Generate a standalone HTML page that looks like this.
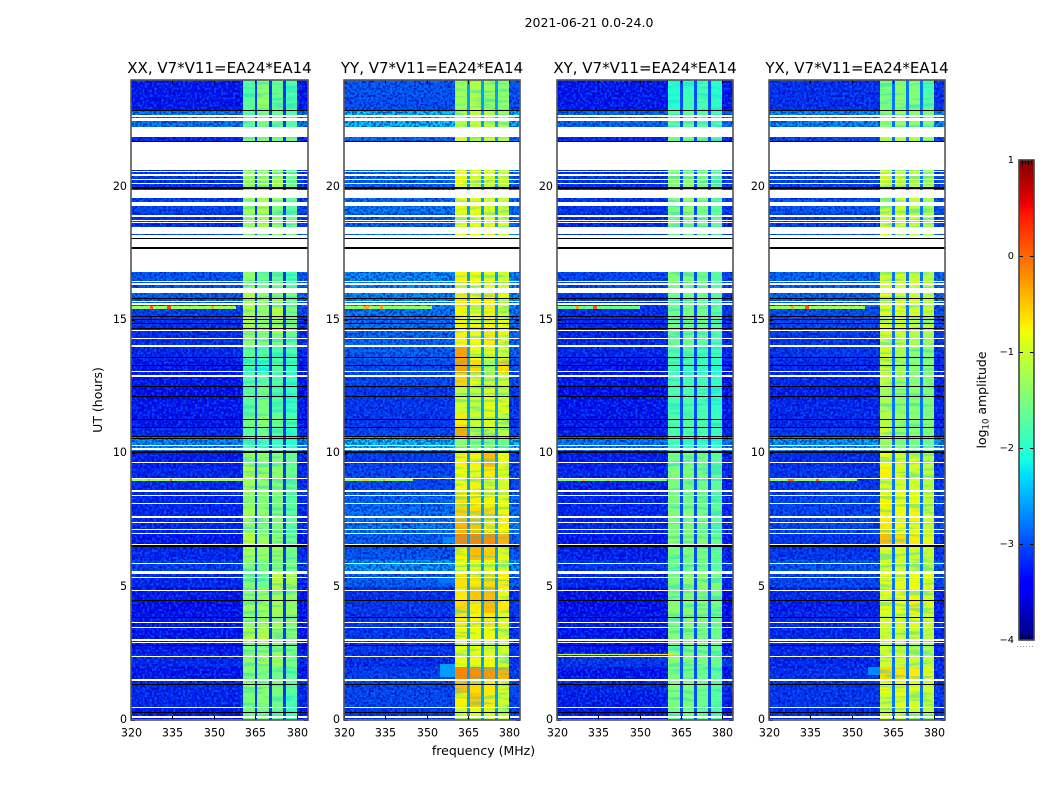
<!DOCTYPE html>
<html lang="en">
<head>
<meta charset="utf-8">
<title>2021-06-21 waterfall</title>
<style>
html,body{margin:0;padding:0;background:#fff;}
svg{display:block;font-family:"DejaVu Sans","Liberation Sans",sans-serif;fill:#000;}
</style>
</head>
<body>
<svg id="chart" xmlns="http://www.w3.org/2000/svg" width="1050" height="800" viewBox="0 0 1050 800">
  <defs>
    <filter id="speckle-light" x="0" y="0" width="1" height="1" color-interpolation-filters="sRGB">
      <feTurbulence type="fractalNoise" baseFrequency="0.42" numOctaves="1" seed="3"/>
      <feColorMatrix type="matrix" values="0 0 0 0 0  0 0 0 0 0.5  0 0 0 0 1  8 0 0 0 -4"/>
    </filter>
    <filter id="speckle-dark" x="0" y="0" width="1" height="1" color-interpolation-filters="sRGB">
      <feTurbulence type="fractalNoise" baseFrequency="0.42" numOctaves="1" seed="11"/>
      <feColorMatrix type="matrix" values="0 0 0 0 0  0 0 0 0 0  0 0 0 0 0.6  8 0 0 0 -3.6"/>
    </filter>
    <filter id="band-streaks" x="0" y="0" width="1" height="1" color-interpolation-filters="sRGB">
      <feTurbulence type="fractalNoise" baseFrequency="0.03 0.28" numOctaves="2" seed="7"/>
      <feColorMatrix type="matrix" values="0 0 0 0 0  0 0 0 0 0.8  0 0 0 0 0.9  6 0 0 0 -3"/>
    </filter>
  </defs>
  <text x="589" y="27" font-size="12.5" text-anchor="middle">2021-06-21 0.0-24.0</text>
  <text x="483.5" y="755" font-size="12.5" text-anchor="middle">frequency (MHz)</text>
  <text transform="translate(102,400) rotate(-90)" font-size="12.5" text-anchor="middle">UT (hours)</text>
  <text transform="translate(986,400) rotate(-90)" font-size="12.5" text-anchor="middle">log<tspan font-size="8.5" dy="2.5">10</tspan><tspan dy="-2.5"> amplitude</tspan></text>
  <g id="panels"></g>
  <g id="colorbar"></g>
</svg>
<script>
// ---- axis data ----
const panelTitles = ["XX, V7*V11=EA24*EA14", "YY, V7*V11=EA24*EA14", "XY, V7*V11=EA24*EA14", "YX, V7*V11=EA24*EA14"];
const xTicks = [320, 335, 350, 365, 380];
const yTicks = [0, 5, 10, 15, 20];
const colorTicks = [1, 0, -1, -2, -3, -4];

// ---- frequency columns (MHz): background, band 1, gap, band 2, gap, band 3, gap, band 4, tail ----
const freqEdges = [320, 360.5, 364.7, 365.7, 369.9, 370.9, 375, 375.9, 379.9, 384];

// ---- time segments (UT hours) ----
const timeEdges = [0,0.5,1,1.5,2,2.5,3,3.5,4,4.5,5,5.5,6,6.5,7,7.5,8,8.5,9,9.5,10,10.6,11,11.5,12,12.5,13,13.5,14,14.5,15,15.5,16,16.8,18.5,19,19.5,20.6,22.2,22.85,23.4,24];

// ---- log10 amplitude per time segment ----
const xxBackground = [-3.3,-3.2,-3.2,-3.3,-3.2, -3.3,-3.3,-3.3,-3.35,-3.3, -3.2,-3.05,-3.2,-3.3,-3.2, -3.2,-3.2,-3.2,-3.2,-3.25, -2.6,-3.2,-3.3,-3.3,-3.35, -3.3,-3.3,-3.2,-3.15,-3.15, -3.05,-2.85,-2.9,-3.0,-3.15, -3.0,-3.1,-3.2,-2.7,-3.3, -3.3];
const xxBand1 = [-1.55,-1.5,-1.4,-1.45,-1.35, -1.5,-1.2,-1.4,-1.3,-1.4, -1.5,-1.45,-1.3,-1.15,-1.4, -1.3,-1.4,-1.3,-1.15,-1.35, -1.8,-1.7,-1.55,-1.7,-1.7, -1.75,-1.8,-1.7,-1.4,-1.25, -1.15,-1.2,-1.4,-1.4,-1.35, -1.3,-1.3,-1.5,-1.65,-1.7, -1.75];
const xxBand2 = [-1.5,-1.45,-1.4,-1.5,-1.3, -1.45,-1.15,-1.3,-1.3,-1.35, -1.6,-1.5,-1.35,-1.3,-1.5, -1.35,-1.45,-1.4,-1.3,-1.4, -1.9,-1.6,-1.4,-1.5,-1.55, -1.7,-2.0,-1.75,-1.5,-1.35, -1.35,-1.4,-1.6,-1.4,-1.25, -1.2,-1.3,-1.5,-1.5,-1.35, -1.4];
const xxBand3 = [-1.6,-1.55,-1.5,-1.55,-1.35, -1.4,-1.3,-1.35,-1.25,-1.3, -1.1,-1.5,-1.3,-1.4,-1.5, -1.45,-1.5,-1.4,-1.4,-1.45, -1.9,-1.7,-1.6,-1.75,-1.7, -1.75,-1.7,-1.8,-1.5,-1.2, -1.15,-1.3,-1.6,-1.4,-1.4, -1.5,-1.3,-1.55,-1.6,-1.6, -1.6];
const xxBand4 = [-1.85,-1.8,-1.7,-1.7,-1.55, -1.55,-1.4,-1.4,-1.35,-1.4, -1.2,-1.55,-1.55,-1.6,-1.7, -1.7,-1.7,-1.6,-1.6,-1.65, -2.0,-1.95,-1.8,-1.9,-1.9, -1.9,-1.9,-1.8,-1.7,-1.5, -1.5,-1.6,-1.8,-1.5,-1.6, -1.7,-1.6,-1.6,-1.75,-1.75, -1.8];

const yyBackground = [-3.1,-3.0,-3.0,-3.05,-3.15, -3.1,-3.1,-3.1,-3.1,-3.15, -2.85,-2.55,-2.9,-2.85,-2.7, -2.75,-2.8,-3.0,-3.0,-3.05, -2.3,-3.0,-3.1,-3.1,-3.1, -3.0,-2.95,-2.85,-2.8,-2.75, -2.7,-2.6,-2.6,-2.7,-2.85, -2.7,-2.8,-2.8,-2.3,-2.95, -2.9];
const yyBand1 = [-0.9,-0.75,-0.45,-0.15,-0.85, -0.85,-0.75,-0.7,-0.6,-0.7, -0.65,-0.85,-0.75,-0.15,-0.4, -0.55,-0.65,-0.8,-0.8,-0.75, -1.4,-0.35,-0.7,-1.0,-1.1, -0.55,-0.3,-0.3,-0.75,-0.75, -0.75,-0.7,-0.75,-0.85,-0.85, -0.85,-0.85,-0.95,-1.2,-1.3, -1.3];
const yyBand2 = [-0.9,-0.5,-0.6,-0.2,-0.85, -0.85,-0.85,-0.75,-0.7,-0.5, -0.7,-0.85,-0.45,-0.15,-0.5, -0.6,-0.7,-0.75,-0.85,-0.75, -1.5,-1.0,-1.0,-1.05,-1.1, -0.8,-0.6,-0.8,-0.8,-0.85, -0.8,-0.75,-0.8,-0.85,-0.85, -0.85,-0.9,-0.95,-1.1,-1.15, -1.2];
const yyBand3 = [-0.95,-0.7,-0.7,-0.25,-0.8, -0.95,-0.8,-0.7,-0.45,-0.45, -0.6,-0.85,-0.55,-0.2,-0.7, -0.6,-0.75,-0.85,-0.7,-0.45, -1.5,-1.0,-0.9,-0.85,-0.9, -1.0,-1.25,-0.9,-0.7,-0.75, -0.75,-0.7,-0.85,-0.9,-0.9, -0.95,-0.95,-1.0,-1.2,-1.3, -1.3];
const yyBand4 = [-1.1,-1.0,-0.9,-0.4,-1.0, -1.0,-0.95,-0.85,-0.7,-0.8, -0.7,-1.0,-0.85,-0.4,-0.75, -0.75,-0.85,-0.95,-0.9,-0.8, -1.6,-1.1,-1.05,-0.9,-1.1, -1.0,-0.6,-1.0,-0.85,-0.85, -0.95,-0.9,-1.0,-1.0,-1.0, -1.05,-1.05,-1.1,-1.3,-1.4, -1.4];

const xyBackground = [-3.3,-3.25,-3.2,-3.3,-3.1, -3.3,-3.3,-3.3,-3.35,-3.35, -3.2,-3.1,-3.25,-3.3,-3.2, -3.2,-3.2,-3.25,-3.2,-3.25, -2.7,-3.25,-3.3,-3.3,-3.35, -3.3,-3.3,-3.2,-3.2,-3.2, -3.15,-3.1,-3.0,-3.05,-3.2, -3.1,-3.1,-3.2,-2.8,-3.3, -3.3];
const xyBand1 = [-1.6,-1.5,-1.45,-1.5,-1.4, -1.55,-1.45,-1.45,-1.4,-1.5, -1.5,-1.6,-1.5,-1.35,-1.5, -1.45,-1.5,-1.5,-1.45,-1.55, -1.9,-1.75,-1.75,-1.8,-1.8, -1.8,-1.8,-1.75,-1.6,-1.55, -1.55,-1.6,-1.45,-1.45,-1.45, -1.5,-1.45,-1.6,-1.7,-2.0, -2.0];
const xyBand2 = [-1.55,-1.5,-1.5,-1.55,-1.45, -1.5,-1.45,-1.4,-1.45,-1.45, -1.4,-1.55,-1.5,-1.35,-1.5, -1.45,-1.55,-1.5,-1.5,-1.5, -1.95,-1.75,-1.7,-1.75,-1.8, -1.85,-1.85,-1.7,-1.6,-1.55, -1.5,-1.55,-1.45,-1.45,-1.35, -1.35,-1.4,-1.55,-1.65,-1.85, -1.9];
const xyBand3 = [-1.6,-1.6,-1.55,-1.6,-1.5, -1.55,-1.5,-1.5,-1.45,-1.45, -1.4,-1.55,-1.5,-1.45,-1.55, -1.5,-1.55,-1.55,-1.5,-1.55, -1.95,-1.8,-1.75,-1.8,-1.8, -1.85,-1.9,-1.85,-1.65,-1.6, -1.55,-1.6,-1.55,-1.5,-1.5, -1.5,-1.5,-1.6,-1.7,-1.8, -1.85];
const xyBand4 = [-1.75,-1.7,-1.7,-1.7,-1.6, -1.65,-1.6,-1.6,-1.55,-1.55, -1.5,-1.7,-1.65,-1.6,-1.7, -1.65,-1.7,-1.7,-1.65,-1.7, -2.0,-1.9,-1.9,-1.95,-1.95, -1.95,-2.0,-1.9,-1.8,-1.75, -1.7,-1.75,-1.7,-1.6,-1.65, -1.7,-1.65,-1.75,-1.8,-1.95, -2.0];

const yxBackground = [-3.15,-3.1,-3.1,-3.15,-3.2, -3.2,-3.2,-3.2,-3.25,-3.2, -3.0,-2.9,-3.1,-3.1,-3.0, -3.0,-3.0,-3.1,-3.1,-3.15, -2.5,-3.1,-3.2,-3.2,-3.25, -3.2,-3.2,-3.1,-3.1,-3.0, -2.95,-2.8,-2.8,-2.9,-3.05, -2.9,-3.0,-3.0,-2.6,-3.15, -3.15];
const yxBand1 = [-1.05,-1.0,-0.8,-0.6,-1.0, -1.05,-1.0,-0.95,-0.85,-0.9, -0.8,-1.0,-0.95,-0.45,-0.7, -0.75,-0.75,-0.9,-0.75,-0.8, -1.3,-1.0,-1.15,-1.2,-1.25, -1.1,-0.95,-0.95,-1.0,-0.9, -0.9,-0.9,-1.0,-1.05,-1.05, -1.05,-1.05,-1.15,-1.4,-1.5, -1.5];
const yxBand2 = [-1.05,-0.85,-0.85,-0.65,-1.0, -1.05,-1.0,-0.95,-0.85,-0.85, -0.85,-1.0,-0.9,-0.6,-0.8, -0.8,-0.85,-0.95,-0.9,-0.95, -1.5,-1.3,-1.3,-1.35,-1.35, -1.3,-1.25,-1.2,-1.1,-1.0, -0.9,-0.95,-1.0,-1.05,-1.0, -1.0,-1.05,-1.1,-1.3,-1.4, -1.4];
const yxBand3 = [-1.05,-0.95,-0.9,-0.7,-1.0, -1.05,-1.0,-0.9,-0.7,-0.8, -0.8,-1.0,-0.95,-0.7,-0.85, -0.75,-0.85,-1.0,-0.95,-0.95, -1.55,-1.4,-1.4,-1.4,-1.4, -1.4,-1.4,-1.35,-1.2,-1.1, -0.95,-1.0,-1.05,-1.05,-1.05, -1.1,-1.05,-1.15,-1.35,-1.45, -1.45];
const yxBand4 = [-1.15,-1.05,-1.0,-0.85,-1.1, -1.15,-1.1,-1.0,-0.85,-0.95, -0.9,-1.1,-1.05,-0.85,-1.05, -1.0,-1.05,-1.15,-1.1,-1.1, -1.6,-1.45,-1.45,-1.45,-1.5, -1.5,-1.45,-1.4,-1.3,-1.2, -1.05,-1.1,-1.15,-1.15,-1.2, -1.25,-1.2,-1.3,-1.5,-1.7, -1.8];

// level of the narrow notches between bands, one per panel
const gapLevels = [-3.1, -2.6, -3.0, -2.8];

// ---- flagged (blank) and zero (black) time ranges, UT hours ----
const whiteGaps = [[0.06,0.15],[0.45,0.49],[1.45,1.53],[2.36,2.40],[2.90,2.94],[2.97,3.03],[3.45,3.49],[3.64,3.68],[4.85,4.88],[5.33,5.36],[5.48,5.59],[5.86,5.90],[6.56,6.60],[6.96,7.00],[7.13,7.16],[7.40,7.44],[7.58,7.65],[8.10,8.14],[8.40,8.44],[8.56,8.63],[9.03,9.06],[9.64,9.68],[10.13,10.20],[10.28,10.31],[12.87,12.94],[13.04,13.08],[14.00,14.05],[14.30,14.35],[14.59,14.63],[15.57,15.63],[15.69,15.72],[16.02,16.19],[16.31,16.38],[16.41,16.46],[16.80,17.66],[17.75,18.03],[18.06,18.19],[18.23,18.50],[18.65,18.69],[18.72,18.75],[18.87,18.93],[19.28,19.43],[19.58,19.88],[20.10,20.15],[20.25,20.29],[20.40,20.46],[20.54,20.59],[20.63,21.68],[21.86,22.24],[22.47,22.57],[22.61,22.68]];
const blackGaps = [[0.27,0.31],[1.33,1.37],[2.79,2.83],[3.83,3.87],[4.48,4.52],[6.47,6.55],[10.0,10.09],[10.52,10.56],[10.63,10.67],[10.96,11.0],[11.26,11.30],[12.13,12.17],[12.47,12.51],[13.27,13.31],[13.58,13.62],[14.67,14.71],[14.84,14.88],[15.01,15.05],[15.13,15.17],[15.79,15.83],[17.66,17.74],[18.03,18.06],[19.90,20.0],[21.68,21.72],[22.84,22.88]];

// ---- narrow interference streaks and patches ----
const featurePanel = [0,0,0,0, 1,1,1,1, 2,2,2, 3,3,3,3, 0,0,0, 1,1,1, 2,2,2, 3,3,3, 2,2, 1,1, 0,1,2,3];
const featureStart = [15.41,15.41,15.41,15.41, 15.41,15.41,15.41,1.6, 15.41,15.41,15.41, 15.41,15.41,15.41,1.7, 8.98,8.98,8.98, 8.98,8.98,8.98, 8.98,8.98,8.98, 8.98,8.98,8.98, 2.42,2.42, 6.65,5.15, 0.01,0.01,0.01,0.01];
const featureEnd = [15.52,15.52,15.52,15.52, 15.52,15.52,15.52,2.1, 15.52,15.52,15.52, 15.52,15.52,15.52,2.0, 9.02,9.02,9.02, 9.02,9.02,9.02, 9.02,9.02,9.02, 9.02,9.02,9.02, 2.46,2.46, 6.85,5.35, 0.05,0.05,0.05,0.05];
const featureFrom = [320,327,333,349, 320,327,333,355, 320,327,333, 320,328,333,356, 320,326,334, 320,327,334, 320,329,338, 320,327,337, 320,345, 356,354, 320,320,320,320];
const featureTo = [358,328,334.5,350, 352,329,334,360.5, 350,328,334.5, 355,329,334.5,360.5, 360.5,327,335, 345,329,335, 360,330,339, 352,329,338, 362,362, 360.5,360.5, 360,360,360,360];
const featureLevel = [-1.3,0,0.2,-0.4, -1.4,-0.4,-0.3,-2.6, -1.6,-0.3,0.1, -1.3,-0.4,0.1,-2.7, -1.3,-0.4,0, -1.3,-0.5,-0.3, -1.5,-0.5,-0.4, -1.4,0,0.1, -1.1,-0.7, -2.7,-2.8, -1.8,-1.8,-1.8,-1.8];

// ---- series grouped per panel ----
const panelBackground = [xxBackground, yyBackground, xyBackground, yxBackground];
const panelBand1 = [xxBand1, yyBand1, xyBand1, yxBand1];
const panelBand2 = [xxBand2, yyBand2, xyBand2, yxBand2];
const panelBand3 = [xxBand3, yyBand3, xyBand3, yxBand3];
const panelBand4 = [xxBand4, yyBand4, xyBand4, yxBand4];

// ---- layout ----
const NS = "http://www.w3.org/2000/svg";
const panelBoxes = [{l:131,r:308},{l:344,r:520},{l:557,r:733},{l:769,r:945}];
const plotTop = 80, plotBottom = 720;
const freqMin = 320, freqMax = 384, hourMin = 0, hourMax = 24;
const barLeft = 1019, barRight = 1034, barTop = 160, barBottom = 640, levelMin = -4, levelMax = 1;

function yScale(h){ return plotBottom - (h - hourMin) / (hourMax - hourMin) * (plotBottom - plotTop); }
function xScale(box, f){ return box.l + (f - freqMin) / (freqMax - freqMin) * (box.r - box.l); }
function barScale(v){ return barBottom - (v - levelMin) / (levelMax - levelMin) * (barBottom - barTop); }

function ramp(t, pts){
  for (let i = 1; i < pts.length; i++) {
    if (t <= pts[i][0]) {
      const a = pts[i-1], b = pts[i];
      return a[1] + (b[1]-a[1]) * (t-a[0]) / (b[0]-a[0]);
    }
  }
  return pts[pts.length-1][1];
}
function jet(v){
  const t = Math.max(0, Math.min(1, (v - levelMin) / (levelMax - levelMin)));
  const r = ramp(t, [[0,0],[0.35,0],[0.66,1],[0.89,1],[1,0.5]]);
  const g = ramp(t, [[0,0],[0.125,0],[0.375,1],[0.64,1],[0.91,0],[1,0]]);
  const b = ramp(t, [[0,0.5],[0.11,1],[0.34,1],[0.65,0],[1,0]]);
  return "rgb(" + Math.round(r*255) + "," + Math.round(g*255) + "," + Math.round(b*255) + ")";
}
function make(tag, attrs, parent){
  const el = document.createElementNS(NS, tag);
  for (const k in attrs) el.setAttribute(k, attrs[k]);
  parent.appendChild(el);
  return el;
}
function span(box, h0, h1, fill, parent){
  if (h1 - h0 <= 0.05) {
    const yMid = Math.round(yScale((h0 + h1) / 2) - 0.5);
    return make("rect", {x: box.l, y: yMid, width: box.r - box.l, height: 1, fill: fill}, parent);
  }
  const y1 = Math.round(yScale(h1));
  const y0 = Math.round(yScale(h0));
  return make("rect", {x: box.l, y: y1, width: box.r - box.l, height: Math.max(1, y0 - y1), fill: fill}, parent);
}

const panelsRoot = document.getElementById("panels");

panelTitles.forEach(function(title, p){
  const box = panelBoxes[p];
  const g = make("g", {}, panelsRoot);
  
  

  // heatmap cells
  const columns = [panelBackground[p], panelBand1[p], null, panelBand2[p], null, panelBand3[p], null, panelBand4[p], panelBackground[p]];
  const heat = make("g", {"shape-rendering": "crispEdges"}, g);
  
  
  for (let s = 0; s < timeEdges.length - 1; s++) {
    const yA = Math.round(yScale(timeEdges[s+1]));
    const yB = Math.round(yScale(timeEdges[s]));
    for (let c = 0; c < columns.length; c++) {
      const xA = Math.round(xScale(box, freqEdges[c]));
      const xB = Math.round(xScale(box, freqEdges[c+1]));
      const level = columns[c] ? columns[c][s] : gapLevels[p];
      const cell = make("rect", {x: xA, y: yA, width: xB - xA, height: yB - yA, fill: jet(level)}, heat);
      
      
    }
  }

  // speckled receiver noise over the off-band regions
  [[freqEdges[0], freqEdges[1]], [freqEdges[8], freqEdges[9]]].forEach(function(range){
    const xA = Math.round(xScale(box, range[0]));
    const xB = Math.round(xScale(box, range[1]));
    ["speckle-dark", "speckle-light"].forEach(function(id){
      const sp = make("rect", {x: xA, y: plotTop, width: xB - xA, height: plotBottom - plotTop, filter: "url(#" + id + ")", opacity: id === "speckle-light" ? 0.5 : 0.6}, g);
      
      
    });
  });

  // horizontal mottling inside the passbands
  [[freqEdges[1], freqEdges[2]], [freqEdges[3], freqEdges[4]], [freqEdges[5], freqEdges[6]], [freqEdges[7], freqEdges[8]]].forEach(function(range){
    const xA = Math.round(xScale(box, range[0]));
    const xB = Math.round(xScale(box, range[1]));
    const bt = make("rect", {x: xA, y: plotTop, width: xB - xA, height: plotBottom - plotTop, filter: "url(#band-streaks)", opacity: 0.35}, g);
    
    
  });

  // interference streaks
  featurePanel.forEach(function(owner, i){
    if (owner !== p) return;
    const y1 = Math.round(yScale(featureEnd[i]));
    const y0 = Math.round(yScale(featureStart[i]));
    const xA = Math.round(xScale(box, featureFrom[i]));
    const xB = Math.round(xScale(box, featureTo[i]));
    const st = make("rect", {x: xA, y: y1, width: Math.max(1, xB - xA), height: Math.max(1, y0 - y1), fill: jet(featureLevel[i]), "shape-rendering": "crispEdges"}, g);
    
    
  });

  // flagged rows
  const flags = make("g", {"shape-rendering": "crispEdges"}, g);
  
  
  whiteGaps.forEach(function(gap){
    const row = span(box, gap[0], gap[1], "#fff", flags);
    
    
  });
  blackGaps.forEach(function(gap){
    const row = span(box, gap[0], gap[1], "#000", flags);
    
    
  });

  // ticks and tick labels
  xTicks.forEach(function(t){
    const x = Math.round(xScale(box, t)) + 0.5;
    const a = make("line", {x1: x, x2: x, y1: plotBottom, y2: plotBottom - 4, stroke: "#000", "stroke-width": 1}, g);
    
    
    const b = make("line", {x1: x, x2: x, y1: plotTop, y2: plotTop + 4, stroke: "#000", "stroke-width": 1}, g);
    
    
    const lab = make("text", {x: x, y: 736.5, "font-size": 11.1, "text-anchor": "middle"}, g);
    lab.textContent = String(t);
    
    
  });
  yTicks.forEach(function(t){
    const y = Math.round(yScale(t)) + 0.5;
    const a = make("line", {x1: box.l, x2: box.l + 4, y1: y, y2: y, stroke: "#000", "stroke-width": 1}, g);
    
    
    const b = make("line", {x1: box.r, x2: box.r - 4, y1: y, y2: y, stroke: "#000", "stroke-width": 1}, g);
    
    
    const lab = make("text", {x: box.l - 4, y: y + 2.5, "font-size": 11.1, "text-anchor": "end"}, g);
    lab.textContent = String(t);
    
    
  });

  // frame
  const frame = make("rect", {x: box.l, y: plotTop, width: box.r - box.l, height: plotBottom - plotTop, fill: "none", stroke: "#555", "stroke-width": 1.6}, g);
  
  

  // title
  const ttl = make("text", {x: (box.l + box.r) / 2, y: 73, "font-size": 15, "text-anchor": "middle"}, g);
  ttl.textContent = title;
  
  
});

// ---- colorbar ----
const barRoot = document.getElementById("colorbar");
const barBand = make("g", {"shape-rendering": "crispEdges"}, barRoot);


for (let y = barTop; y < barBottom; y++) {
  const v = levelMin + (barBottom - y - 0.5) / (barBottom - barTop) * (levelMax - levelMin);
  make("rect", {x: barLeft, y: y, width: barRight - barLeft, height: 1, fill: jet(v)}, barBand);
}
colorTicks.forEach(function(t){
  const y = Math.round(barScale(t)) + 0.5;
  if (t !== levelMin && t !== levelMax) {
    const a = make("line", {x1: barLeft, x2: barLeft + 4, y1: y, y2: y, stroke: "#000", "stroke-width": 1}, barRoot);
    
    
    const b = make("line", {x1: barRight, x2: barRight - 4, y1: y, y2: y, stroke: "#000", "stroke-width": 1}, barRoot);
    
    
  }
  const lab = make("text", {x: barLeft - 5, y: y + 2.5, "font-size": 9.8, "text-anchor": "end"}, barRoot);
  lab.textContent = String(t).replace("-", "\u2212");
  
  
});
[barTop + 0.5, barBottom - 0.5].forEach(function(yEnd, i){
  const dir = i === 0 ? 1 : -1;
  for (let x = barLeft + 3; x < barRight - 1; x += 3) {
    const m = make("line", {x1: x + 0.5, x2: x + 0.5, y1: yEnd, y2: yEnd + dir * 4, stroke: "#000", "stroke-width": 1}, barRoot);
    
    
  }
});
const barFrame = make("rect", {x: barLeft, y: barTop, width: barRight - barLeft, height: barBottom - barTop, fill: "none", stroke: "#444", "stroke-width": 1.6}, barRoot);


const dots = make("line", {x1: 1017, x2: 1035, y1: 646.5, y2: 646.5, stroke: "#999", "stroke-width": 1, "stroke-dasharray": "1 2"}, barRoot);


</script>
</body>
</html>
